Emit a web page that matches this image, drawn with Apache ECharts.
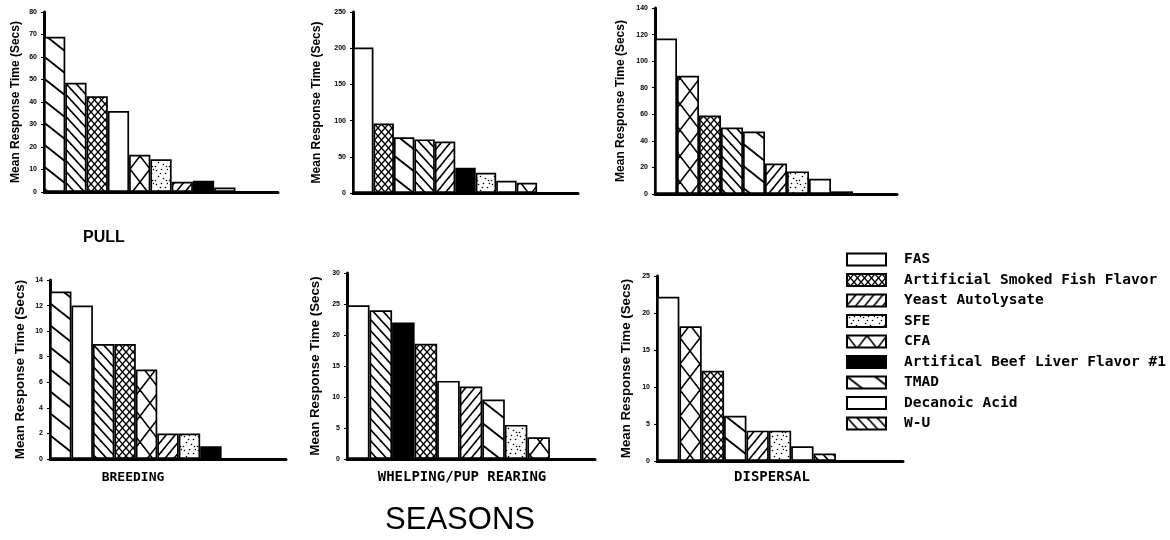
<!DOCTYPE html>
<html><head><meta charset="utf-8">
<script src="https://cdn.jsdelivr.net/npm/echarts@6/dist/echarts.min.js"></script>
<style>html,body{margin:0;padding:0;background:#fff}#c{width:1170px;height:540px}</style>
</head><body><div id="c"></div>
<script>
// ---------- DATA ----------
const substances = ['FAS','Artificial Smoked Fish Flavor','Yeast Autolysate','SFE','CFA',
  'Artifical Beef Liver Flavor #1','TMAD','Decanoic Acid','W-U'];

const panel1Order = ['TMAD','W-U','Artificial Smoked Fish Flavor','FAS','CFA','SFE','Yeast Autolysate','Artifical Beef Liver Flavor #1','Decanoic Acid'];
const panel1Values = [69, 48.5, 42.5, 36, 16.5, 14.5, 4.5, 5, 2];

const panel2Order = ['FAS','Artificial Smoked Fish Flavor','TMAD','W-U','Yeast Autolysate','Artifical Beef Liver Flavor #1','SFE','Decanoic Acid','CFA'];
const panel2Values = [201, 96, 77, 74, 71, 35, 28, 17, 14];

const panel3Order = ['FAS','CFA','Artificial Smoked Fish Flavor','W-U','TMAD','Yeast Autolysate','SFE','Decanoic Acid','Artifical Beef Liver Flavor #1'];
const panel3Values = [117, 89, 59, 50, 47, 23, 17, 11.5, 2];

const panel4Order = ['TMAD','FAS','W-U','Artificial Smoked Fish Flavor','CFA','Yeast Autolysate','SFE','Artifical Beef Liver Flavor #1'];
const panel4Values = [13.1, 12, 9, 9, 7, 2, 2, 1];

const panel5Order = ['FAS','W-U','Artifical Beef Liver Flavor #1','Artificial Smoked Fish Flavor','Decanoic Acid','Yeast Autolysate','TMAD','SFE','CFA'];
const panel5Values = [24.8, 24, 22, 18.6, 12.6, 11.7, 9.6, 5.5, 3.5];

const panel6Order = ['FAS','CFA','Artificial Smoked Fish Flavor','TMAD','Yeast Autolysate','SFE','Decanoic Acid','W-U'];
const panel6Values = [22.2, 18.2, 12.2, 6.1, 4.1, 4.1, 2, 1];

const axisMax = [80, 250, 140, 14, 30, 25];
const axisInterval = [10, 50, 20, 2, 5, 5];

const yTitle = 'Mean Response Time (Secs)';
const rowLabel = 'PULL';
const seasonLabels = ['BREEDING', 'WHELPING/PUP REARING', 'DISPERSAL'];
const bottomTitle = 'SEASONS';

// ---------- STYLE / LAYOUT ----------
function tile(w, h, draw) {
  const c = document.createElement('canvas');
  c.width = w; c.height = h;
  const g = c.getContext('2d');
  g.fillStyle = '#fff'; g.fillRect(0, 0, w, h);
  g.strokeStyle = '#000'; g.fillStyle = '#000';
  draw(g, w, h);
  return { image: c, repeat: 'repeat' };
}
function back(g, w, h, lw) {
  g.lineWidth = lw;
  for (let k = -1; k <= 1; k++) {
    g.beginPath(); g.moveTo(-w, -h + k * h); g.lineTo(2 * w, 2 * h + k * h); g.stroke();
  }
}
function fwd(g, w, h, lw) {
  g.lineWidth = lw;
  for (let k = -1; k <= 1; k++) {
    g.beginPath(); g.moveTo(-w, 2 * h + k * h); g.lineTo(2 * w, -h + k * h); g.stroke();
  }
}
const dotPos = [[2,2],[7,1],[11,5],[4,8],[9,10],[1,12],[6,5],[12,12],[13,1]];
const fills = {
  'FAS': '#fff',
  'Decanoic Acid': '#fff',
  'Artifical Beef Liver Flavor #1': '#000',
  'TMAD': tile(28, 22, (g, w, h) => back(g, w, h, 1.8)),
  'W-U': tile(10, 11, (g, w, h) => back(g, w, h, 1.6)),
  'Yeast Autolysate': tile(9, 11, (g, w, h) => fwd(g, w, h, 1.6)),
  'Artificial Smoked Fish Flavor': tile(7, 8, (g, w, h) => { back(g, w, h, 1.4); fwd(g, w, h, 1.4); }),
  'CFA': tile(20, 26, (g, w, h) => { back(g, w, h, 1.6); fwd(g, w, h, 1.6); }),
  'SFE': tile(14, 14, (g) => { dotPos.forEach(p => { g.beginPath(); g.arc(p[0] + 0.5, p[1] + 0.5, 0.8, 0, Math.PI * 2); g.fill(); }); })
};

const layout = [
  { left: 44, top: 12, width: 234, height: 180, nameGap: 22, nameSize: 12 },
  { left: 353, top: 12, width: 225, height: 181, nameGap: 30, nameSize: 12 },
  { left: 655, top: 8, width: 242, height: 186, nameGap: 28, nameSize: 12 },
  { left: 50, top: 280, width: 236, height: 179, nameGap: 23, nameSize: 13.3 },
  { left: 347, top: 273, width: 248, height: 186, nameGap: 25, nameSize: 13.3 },
  { left: 657, top: 276, width: 246, height: 185, nameGap: 24, nameSize: 13.3 }
];
const SLOTS = 11;

const orders = [panel1Order, panel2Order, panel3Order, panel4Order, panel5Order, panel6Order];
const values = [panel1Values, panel2Values, panel3Values, panel4Values, panel5Values, panel6Values];

const grid = [], xAxis = [], yAxis = [], series = [];
orders.forEach((order, p) => {
  const L = layout[p];
  grid.push({ left: L.left, top: L.top, width: L.width, height: L.height, containLabel: false, outerBoundsMode: 'none' });
  const cats = order.slice();
  while (cats.length < SLOTS) cats.push('');
  xAxis.push({
    type: 'category', gridIndex: p, data: cats, boundaryGap: true,
    axisLine: { show: true, lineStyle: { color: '#000', width: 3 } },
    axisTick: { show: false }, axisLabel: { show: false }, splitLine: { show: false }
  });
  yAxis.push({
    type: 'value', gridIndex: p, min: 0, max: axisMax[p], interval: axisInterval[p],
    name: yTitle, nameLocation: 'middle', nameGap: L.nameGap,
    nameTextStyle: { fontFamily: 'Liberation Sans', fontWeight: 'bold', fontSize: L.nameSize, color: '#000' },
    axisLine: { show: true, lineStyle: { color: '#000', width: 3 } },
    axisTick: { show: true, length: 3, lineStyle: { color: '#000', width: 1 } },
    axisLabel: { show: true, fontFamily: 'Liberation Sans', fontWeight: 'bold', fontSize: 7, color: '#000', margin: 7 },
    splitLine: { show: false }
  });
  order.forEach((s, i) => {
    series.push({
      type: 'bar', name: s, xAxisIndex: p, yAxisIndex: p, stack: 'panel' + p,
      barCategoryGap: '0%',
      data: order.map((o, j) => (j === i ? values[p][j] : '-')),
      itemStyle: { color: fills[s], borderColor: '#000', borderWidth: 1.7 },
      emphasis: { disabled: true }, silent: true
    });
  });
});

const mono = 'DejaVu Sans Mono';
const option = {
  animation: false,
  backgroundColor: '#fff',
  grid, xAxis, yAxis, series,
  legend: {
    data: substances, orient: 'vertical', left: 841, top: 247,
    itemWidth: 39, itemHeight: 12, itemGap: 5.5, icon: 'rect', selectedMode: false,
    itemStyle: { borderColor: '#000', borderWidth: 2 },
    textStyle: { fontFamily: mono, fontWeight: 'bold', fontSize: 14.5, color: '#000', padding: [0, 0, 0, 13] }
  },
  graphic: [
    { type: 'text', x: 104, y: 238, style: { text: rowLabel, font: 'bold 16px "Liberation Sans"', fill: '#000', align: 'center', verticalAlign: 'middle' } },
    { type: 'text', x: 133, y: 478, style: { text: seasonLabels[0], font: 'bold 13px "' + mono + '"', fill: '#000', align: 'center', verticalAlign: 'middle' } },
    { type: 'text', x: 462, y: 477, style: { text: seasonLabels[1], font: 'bold 14px "' + mono + '"', fill: '#000', align: 'center', verticalAlign: 'middle' } },
    { type: 'text', x: 772, y: 477, style: { text: seasonLabels[2], font: 'bold 14px "' + mono + '"', fill: '#000', align: 'center', verticalAlign: 'middle' } },
    { type: 'text', x: 460, y: 520, style: { text: bottomTitle, font: '31px "Liberation Sans"', fill: '#000', align: 'center', verticalAlign: 'middle' } }
  ]
};
const chart = echarts.init(document.getElementById('c'), null, { renderer: 'canvas' });
chart.setOption(option);
</script></body></html>
